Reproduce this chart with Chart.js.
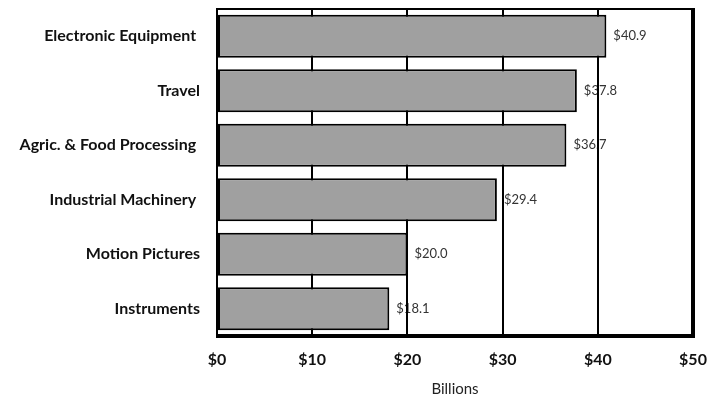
<!DOCTYPE html>
<html>
<head>
<meta charset="utf-8">
<script src="https://cdn.jsdelivr.net/npm/chart.js@4.4.0/dist/chart.umd.min.js"></script>
<style>
  html, body { margin: 0; padding: 0; background: #fff; }
  #wrap { width: 710px; height: 398px; position: relative; }
</style>
</head>
<body>
<div id="wrap"><canvas id="mycanvas"></canvas></div>
<script>
// industries, top to bottom
const categories = ['Electronic Equipment ', 'Travel', 'Agric. & Food Processing ', 'Industrial Machinery ', 'Motion Pictures', 'Instruments'];
const values = [40.9, 37.8, 36.7, 29.4, 20.0, 18.1];
const valueLabels = ['$40.9', '$37.8', '$36.7', '$29.4', '$20.0', '$18.1'];
const xTicks = [0, 10, 20, 30, 40, 50];

const FONT = 'Lato, "Open Sans", sans-serif';

// value labels go under the grid lines, like in the original
const valueLabelPlugin = {
  id: 'valueLabels',
  beforeDraw(chart) {
    const ctx = chart.ctx;
    const meta = chart.getDatasetMeta(0);
    ctx.save();
    ctx.font = '13px ' + FONT;
    ctx.fillStyle = '#333';
    ctx.textAlign = 'left';
    ctx.textBaseline = 'middle';
    meta.data.forEach(function(bar, i) {
      ctx.fillText(valueLabels[i], bar.x + 7, bar.y);
    });
    ctx.restore();
  }
};

// box round the plot area, heavier on the right and bottom
const framePlugin = {
  id: 'frame',
  afterDraw(chart) {
    const a = chart.chartArea;
    const ctx = chart.ctx;
    ctx.save();
    ctx.strokeStyle = '#000';
    ctx.lineWidth = 2;
    ctx.beginPath();
    ctx.moveTo(a.left, a.bottom);
    ctx.lineTo(a.left, a.top);
    ctx.lineTo(a.right, a.top);
    ctx.stroke();
    ctx.lineWidth = 4;
    ctx.beginPath();
    ctx.moveTo(a.right, a.top - 1);
    ctx.lineTo(a.right, a.bottom);
    ctx.lineTo(a.left - 1, a.bottom);
    ctx.stroke();
    ctx.restore();
  }
};

const ctx = document.getElementById('mycanvas');
window.myChart = new Chart(ctx, {
  type: 'bar',
  data: {
    labels: categories,
    datasets: [{
      data: values,
      backgroundColor: '#a0a0a0',
      borderColor: '#000',
      borderWidth: 2,
      borderSkipped: false,
      categoryPercentage: 1,
      barPercentage: 0.79
    }]
  },
  options: {
    indexAxis: 'y',
    responsive: true,
    maintainAspectRatio: false,
    animation: false,
    layout: { padding: { left: 0, right: 0, top: 9, bottom: 0 } },
    plugins: {
      legend: { display: false },
      tooltip: { enabled: false }
    },
    scales: {
      x: {
        min: 0,
        max: 50,
        afterBuildTicks: function(axis) {
          axis.ticks = xTicks.map(function(v) { return { value: v }; });
        },
        afterFit: function(axis) {
          axis.height = 62;
          axis.paddingLeft = 0;
          axis.paddingRight = 17;
        },
        grid: { color: '#000', lineWidth: 2, drawTicks: false },
        border: { display: false },
        ticks: {
          padding: 14,
          color: '#111',
          font: { family: FONT, size: 16, weight: 'bold' },
          callback: function(v) { return '$' + v; }
        },
        title: {
          display: true,
          text: 'Billions',
          color: '#222',
          font: { family: FONT, size: 15 },
          padding: { top: 6, bottom: 0 }
        }
      },
      y: {
        afterFit: function(axis) {
          axis.width = 217;
          axis.paddingTop = 0;
          axis.paddingBottom = 0;
        },
        grid: { display: false, drawTicks: false },
        border: { display: false },
        ticks: {
          padding: 17,
          color: '#111',
          font: { family: FONT, size: 16, weight: 'bold' }
        }
      }
    }
  },
  plugins: [valueLabelPlugin, framePlugin]
});
</script>
</body>
</html>
